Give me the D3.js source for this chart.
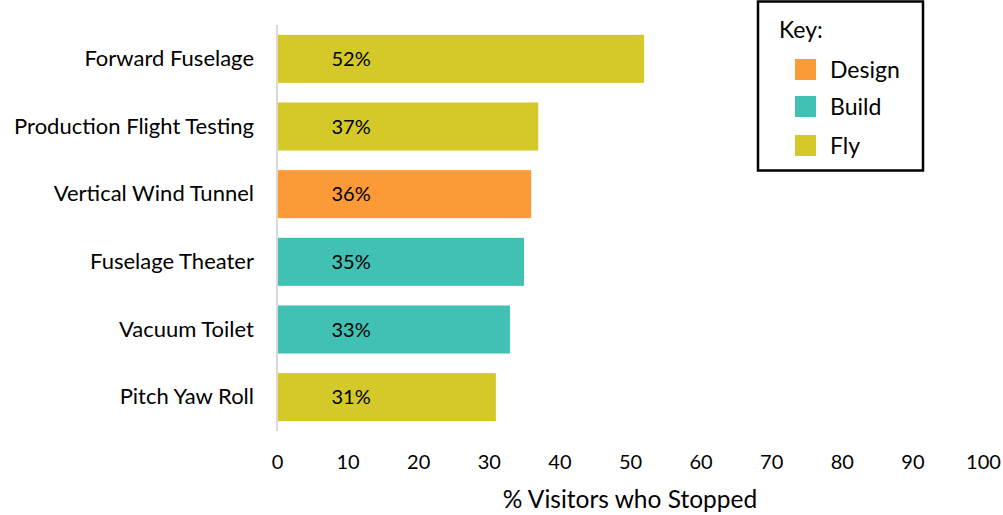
<!DOCTYPE html>
<html>
<head>
<meta charset="utf-8">
<script src="https://cdn.jsdelivr.net/npm/d3@7"></script>
<style>
  body { margin: 0; background: #fff; }
  svg { display: block; font-family: Lato, "Open Sans", sans-serif; }
</style>
</head>
<body>
<script>
// data
const exhibits = ["Forward Fuselage", "Production Flight Testing", "Vertical Wind Tunnel", "Fuselage Theater", "Vacuum Toilet", "Pitch Yaw Roll"];
const pctStopped = [52, 37, 36, 35, 33, 31];
const phase = ["Fly", "Fly", "Design", "Build", "Build", "Fly"];
const phases = ["Design", "Build", "Fly"];
const xTicks = [0, 10, 20, 30, 40, 50, 60, 70, 80, 90, 100];

const width = 1003, height = 515;

const color = d3.scaleOrdinal(phases, ["#fd9a38", "#41c0b4", "#d4c928"]);

const x = d3.scaleLinear([0, 100], [277, 983]);
const y = d3.scaleBand(exhibits, [25, 431]).paddingInner(0.29).paddingOuter(0.145);

const svg = d3.select("body").append("svg")
    .attr("width", width)
    .attr("height", height);

// bars
svg.append("g")
  .selectAll("rect")
  .data(exhibits)
  .join("rect")
    .attr("x", x(0))
    .attr("y", d => y(d))
    .attr("width", (d, i) => x(pctStopped[i]) - x(0))
    .attr("height", y.bandwidth())
    .attr("fill", (d, i) => color(phase[i]));

// value labels (all sit at the same spot inside the bar)
svg.append("g")
  .selectAll("text")
  .data(exhibits)
  .join("text")
    .attr("x", x(10.5))
    .attr("y", d => y(d) + y.bandwidth() / 2)
    .attr("dy", "0.35em")
    .attr("text-anchor", "middle")
    .attr("font-size", 20)
    .text((d, i) => pctStopped[i] + "%");

// y axis: only the thin grey line and category names
const yAxis = svg.append("g")
    .attr("transform", `translate(${x(0)},0)`)
    .call(d3.axisLeft(y).tickSize(0).tickPadding(23));
yAxis.select(".domain").attr("stroke", "#d9d9d9").attr("stroke-width", 2)
    .attr("d", "M0,25V431");
yAxis.selectAll("text").attr("font-size", 22).attr("font-family", "Lato").attr("fill", "#000");

// x axis: labels only
const xAxis = svg.append("g")
    .attr("transform", "translate(0,455)")
    .call(d3.axisBottom(x).tickValues(xTicks).tickSize(0).tickPadding(0));
xAxis.select(".domain").remove();
xAxis.selectAll("text").attr("font-size", 20).attr("font-family", "Lato").attr("fill", "#000");

svg.append("text")
    .attr("x", 630)
    .attr("y", 508)
    .attr("text-anchor", "middle")
    .attr("font-size", 24.5)
    .text("% Visitors who Stopped");

// legend
const legend = svg.append("g");
legend.append("rect")
    .attr("x", 758).attr("y", 1.5)
    .attr("width", 165).attr("height", 169)
    .attr("fill", "#fff").attr("stroke", "#000").attr("stroke-width", 2.5);
legend.append("text")
    .attr("x", 779).attr("y", 38)
    .attr("font-size", 23)
    .text("Key:");
const item = legend.selectAll("g.item")
  .data(phases)
  .join("g")
    .attr("class", "item")
    .attr("transform", (d, i) => `translate(795,${[59, 96, 135][i]})`);
item.append("rect").attr("width", 21).attr("height", 21).attr("fill", d => color(d));
item.append("text")
    .attr("x", 35).attr("y", 11).attr("dy", "0.35em")
    .attr("font-size", 23)
    .text(d => d);
</script>
</body>
</html>
